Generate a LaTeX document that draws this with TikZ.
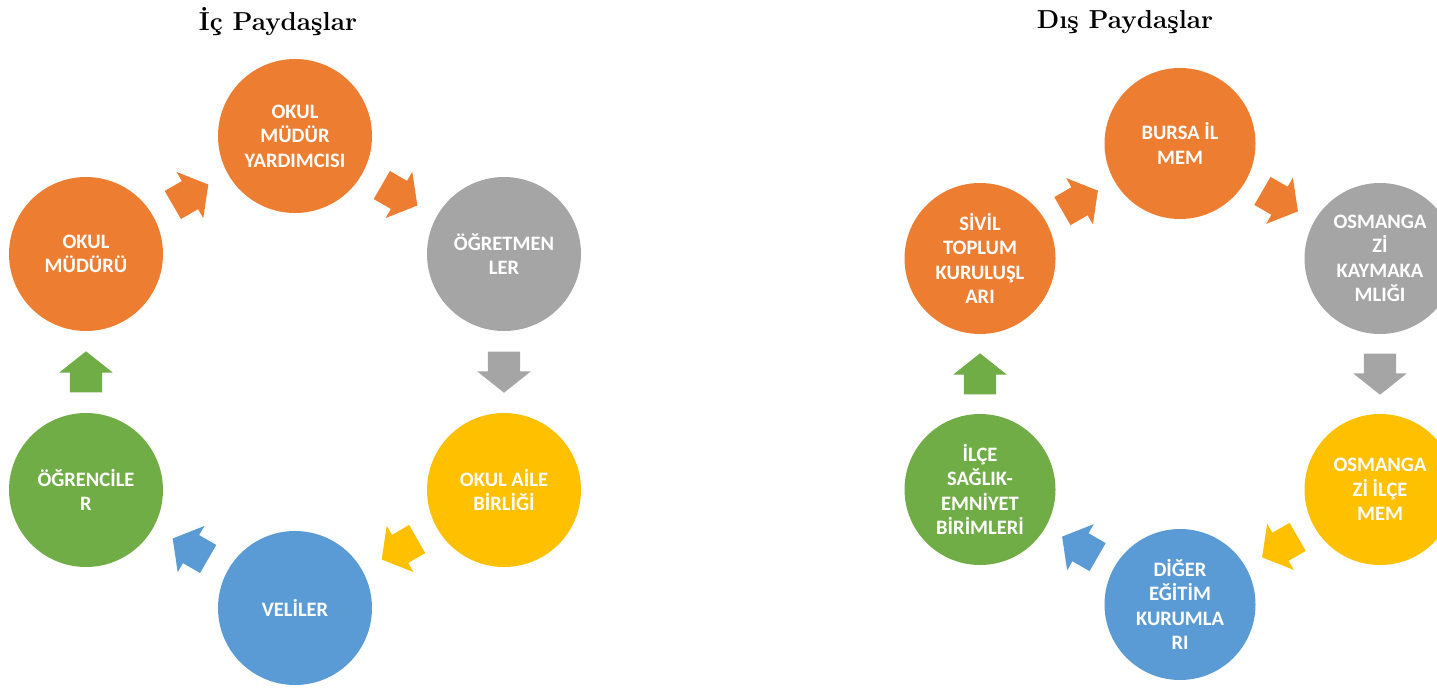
\documentclass[tikz,border=0pt]{standalone}
\usepackage{fontspec}
\usetikzlibrary{calc}
\usetikzlibrary{shapes.arrows}
\newfontfamily\circfont{Carlito}
\definecolor{offorange}{HTML}{ED7D31}
\definecolor{offgray}{HTML}{A5A5A5}
\definecolor{offyellow}{HTML}{FFC000}
\definecolor{offblue}{HTML}{5B9BD5}
\definecolor{offgreen}{HTML}{70AD47}

\begin{document}
\begin{tikzpicture}[x=1pt, y=-1pt,
        stake/.style={circle, fill=#1, minimum size=154pt, inner sep=0pt, text=white, align=center,
            font=\circfont\bfseries\fontsize{20.5}{24.5}\selectfont},
        flow/.style={single arrow, fill=#1, anchor=tail, minimum height=41pt, minimum width=53pt,
            single arrow head extend=10.5pt, single arrow tip angle=103, inner xsep=0pt, inner ysep=16pt},
        headline/.style={font=\bfseries\fontsize{26}{30}\selectfont}]
        \useasboundingbox (0,0) rectangle (1437,691);

        % ic paydaslar
        \node[headline] (intitle) at (278,22) {İç Paydaşlar};
        \node[stake=offorange] (mudur) at (86,254) {OKUL\\MÜDÜRÜ};
        \node[stake=offorange] (yard) at (295,136) {OKUL\\MÜDÜR\\YARDIMCISI};
        \node[stake=offgray] (ogrt) at (504,254) {ÖĞRETMEN\\LER};
        \node[stake=offyellow] (aile) at (504,490) {OKUL AİLE\\BİRLİĞİ};
        \node[stake=offblue] (veli) at (295,608) {VELİLER};
        \node[stake=offgreen] (ogrenci) at (86,490) {ÖĞRENCİLE\\R};

        \node[flow=offorange, rotate=30] (a1) at ($(mudur)!0.5!(yard)!20.5pt!(mudur)$) {};
        \node[flow=offorange, rotate=-30] (a2) at ($(yard)!0.5!(ogrt)!20.5pt!(yard)$) {};
        \node[flow=offgray, rotate=-90] (a3) at ($(ogrt)!0.5!(aile)!20.5pt!(ogrt)$) {};
        \node[flow=offyellow, rotate=210] (a4) at ($(aile)!0.5!(veli)!20.5pt!(aile)$) {};
        \node[flow=offblue, rotate=150] (a5) at ($(veli)!0.5!(ogrenci)!20.5pt!(veli)$) {};
        \node[flow=offgreen, rotate=90] (a6) at ($(ogrenci)!0.5!(mudur)!20.5pt!(ogrenci)$) {};

        % dis paydaslar
        \node[headline] (outtitle) at (1125,22) {Dış Paydaşlar};
        \node[stake=offorange, minimum size=151pt] (sivil) at (980,258.5) {SİVİL\\TOPLUM\\KURULUŞL\\ARI};
        \node[stake=offorange, minimum size=151pt] (bursa) at (1180,143.5) {BURSA İL\\MEM};
        \node[stake=offgray, minimum size=151pt] (kaym) at (1380,258.5) {OSMANGA\\Zİ\\KAYMAKA\\MLIĞI};
        \node[stake=offyellow, minimum size=151pt] (ilcemem) at (1380,489.5) {OSMANGA\\Zİ İLÇE\\MEM};
        \node[stake=offblue, minimum size=151pt] (diger) at (1180,604.5) {DİĞER\\EĞİTİM\\KURUMLA\\RI};
        \node[stake=offgreen, minimum size=151pt] (saglik) at (980,489.5) {İLÇE\\SAĞLIK-\\EMNİYET\\BİRİMLERİ};

        \node[flow=offorange, rotate=30] (b1) at ($(sivil)!0.5!(bursa)!20.5pt!(sivil)$) {};
        \node[flow=offorange, rotate=-30] (b2) at ($(bursa)!0.5!(kaym)!20.5pt!(bursa)$) {};
        \node[flow=offgray, rotate=-90] (b3) at ($(kaym)!0.5!(ilcemem)!20.5pt!(kaym)$) {};
        \node[flow=offyellow, rotate=210] (b4) at ($(ilcemem)!0.5!(diger)!20.5pt!(ilcemem)$) {};
        \node[flow=offblue, rotate=150] (b5) at ($(diger)!0.5!(saglik)!20.5pt!(diger)$) {};
        \node[flow=offgreen, rotate=90] (b6) at ($(saglik)!0.5!(sivil)!20.5pt!(saglik)$) {};
    \end{tikzpicture}
\end{document}
